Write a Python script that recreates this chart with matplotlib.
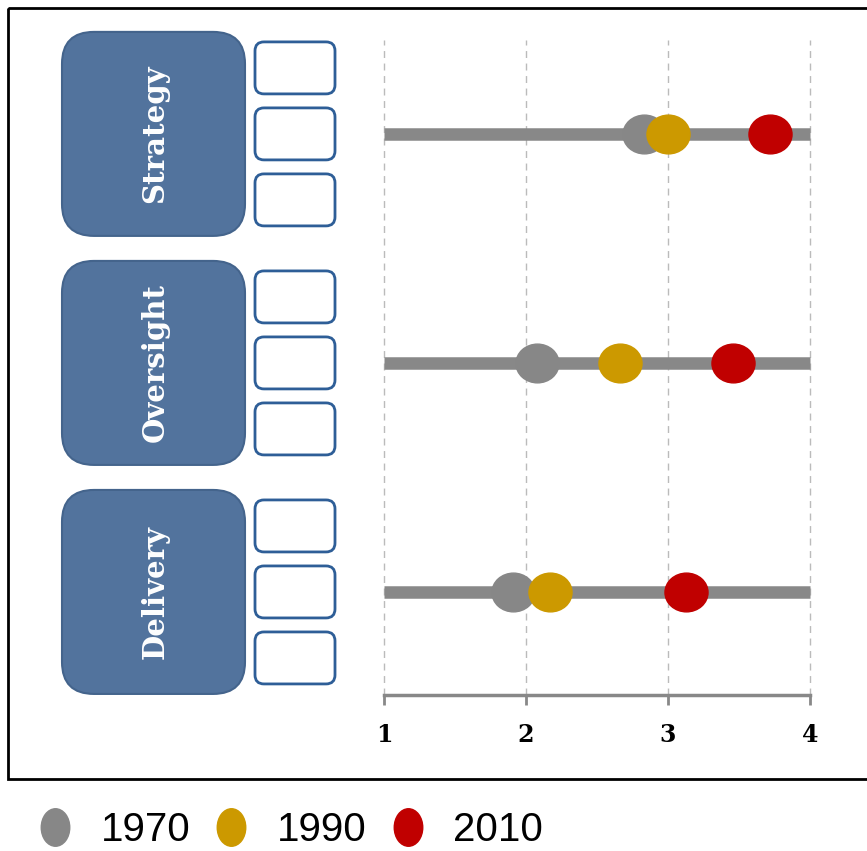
import numpy as np
import matplotlib
matplotlib.use("Agg")
import matplotlib.pyplot as plt
from matplotlib.path import Path
from matplotlib.patches import FancyBboxPatch, Rectangle
from matplotlib.lines import Line2D

# data
categories = ["Strategy", "Oversight", "Delivery"]
years = ["1970", "1990", "2010"]
vals_1970 = [2.83, 2.08, 1.91]
vals_1990 = [3.00, 2.66, 2.17]
vals_2010 = [3.72, 3.46, 3.13]
colors = ["#878787", "#CC9900", "#C00000"]
xticks = [1, 2, 3, 4]

W, H = 867, 851
fig = plt.figure(figsize=(W / 100, H / 100), dpi=100)


def ellipse_marker(sx, sy):
    c = Path.unit_circle()
    return Path(c.vertices * np.array([sx, sy]), c.codes)


rows = np.arange(len(categories))[::-1]  # Strategy on top

ax = fig.add_axes([384 / W, (H - 695) / H, 426 / W, 655 / H])
ax.set_xlim(1, 4)
ax.set_ylim(-0.45, 2.41)
ax.hlines(rows, 1, 4, color="#888888", lw=9, zorder=1, clip_on=False)
mk = ellipse_marker(1.0, 0.9)
for vals, col in zip([vals_1970, vals_1990, vals_2010], colors):
    ax.plot(vals, rows, ls="none", marker=mk, ms=31, color=col, mec=col, zorder=3)

ax.set_xticks(xticks)
ax.set_xticklabels([str(t) for t in xticks], fontfamily="DejaVu Serif",
                   fontweight="bold", fontsize=17)
ax.set_yticks([])
ax.tick_params(axis="x", length=7, width=2, color="#888888", pad=13)
for s in ["top", "left", "right"]:
    ax.spines[s].set_visible(False)
ax.spines["bottom"].set_color("#888888")
ax.spines["bottom"].set_linewidth(2.5)
ax.grid(axis="x", ls=(0, (5, 4)), color="#BBBBBB", lw=1)
for gl in ax.get_xgridlines():
    gl.set_clip_on(False)
ax.set_axisbelow(True)

# decoration layer in pixel coordinates
bg = fig.add_axes([0, 0, 1, 1], zorder=-1)
bg.set_xlim(0, W)
bg.set_ylim(H, 0)
bg.axis("off")

bg.add_patch(Rectangle((8, 8), 880, 771, fill=False, ec="black", lw=2))

for cat, r in zip(categories, rows):
    cy = H - ax.transData.transform((1, r))[1]
    bg.add_patch(FancyBboxPatch((62, cy - 102), 183, 204,
                                boxstyle="round,pad=0,rounding_size=32",
                                fc="#52739D", ec="#44648C", lw=1.5))
    bg.text(155, cy, cat, rotation=90, ha="center", va="center",
            color="white", fontfamily="DejaVu Serif", fontweight="bold",
            fontsize=21)
    for off in [-66, 0, 66]:
        bg.add_patch(FancyBboxPatch((255, cy + off - 26), 80, 52,
                                    boxstyle="round,pad=0,rounding_size=9",
                                    fc="white", ec="#2E5E97", lw=2))

# legend
lmk = ellipse_marker(0.76, 1.0)
handles = [Line2D([], [], ls="none", marker=lmk, ms=27, color=c, mec=c) for c in colors]
fig.legend(handles, years, loc="center left", bbox_to_anchor=(34 / W, 1 - 830 / H),
           ncol=3, frameon=False, borderpad=0, borderaxespad=0,
           handlelength=1.05, handletextpad=0.6, columnspacing=0.5,
           prop={"family": "Liberation Sans", "size": 29})

fig.savefig("out.png", dpi=100)
